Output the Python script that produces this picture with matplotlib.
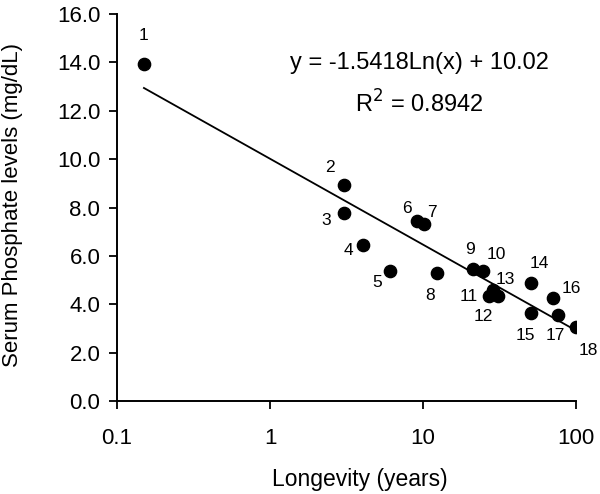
import numpy as np
import matplotlib
matplotlib.use("Agg")
import matplotlib.pyplot as plt

plt.rcParams["font.family"] = ["Liberation Sans", "DejaVu Sans"]

# longevity (years) and serum phosphate (mg/dL), species 1-18
longevity = [0.15, 3.06, 3.06, 4.07, 6.08, 9.1, 10.15, 12.3, 21.3, 24.5,
             27.1, 31.0, 28.8, 50.6, 50.6, 71.1, 76.7, 100.0]
phosphate = [13.95, 8.95, 7.76, 6.47, 5.37, 7.45, 7.34, 5.28, 5.48, 5.38,
             4.34, 4.34, 4.61, 4.89, 3.65, 4.27, 3.58, 3.05]
labels = [str(i) for i in range(1, 19)]
# label offsets in points from each marker
label_dx = [0, -10, -13, -11, -9, -7, 6, -5, -2, 10, -15, -11, 9, 6, -4, 13, -2, 9]
label_dy = [20, 12, -5, -4, -8, 9, 8, -16, 14, 12, 0, -15, 7, 14, -16, 7, -15, -17]

fit_a, fit_b = -1.5418, 10.02

fig = plt.figure(figsize=(6.0, 4.94), dpi=100)
ax = fig.add_axes([0.195, 0.188, 0.765, 0.7835])

ax.scatter(longevity, phosphate, s=78, color="black", zorder=3)

xf = np.logspace(np.log10(min(longevity)), np.log10(max(longevity)), 100)
ax.plot(xf, fit_a * np.log(xf) + fit_b, color="black", lw=1.3)

for x, y, t, dx, dy in zip(longevity, phosphate, labels, label_dx, label_dy):
    ax.annotate(t, (x, y), xytext=(dx, dy), textcoords="offset points",
                ha="center", va="center", fontsize=12.5)

ax.text(0.659, 0.873, "y = -1.5418Ln(x) + 10.02", transform=ax.transAxes,
        ha="center", va="center", fontsize=17)
ax.text(0.659, 0.768, "R$^2$ = 0.8942", transform=ax.transAxes,
        ha="center", va="center", fontsize=17)

ax.set_xscale("log")
ax.set_xlim(0.1, 100)
ax.set_ylim(0, 16)
ax.set_xticks([0.1, 1, 10, 100])
ax.set_xticklabels(["0.1", "1", "10", "100"])
ax.xaxis.set_minor_locator(matplotlib.ticker.NullLocator())
ax.set_yticks(np.arange(0, 17, 2))
ax.set_yticklabels([f"{v:.1f}" for v in np.arange(0, 17, 2)])

for s in ["top", "right"]:
    ax.spines[s].set_visible(False)
for s in ["left", "bottom"]:
    ax.spines[s].set_linewidth(1.4)
ax.tick_params(direction="out", length=6, width=1.3, labelsize=16, pad=6)
ax.tick_params(axis="x", pad=13)

ax.set_xlabel("Longevity (years)", fontsize=16.5)
ax.set_ylabel("Serum Phosphate levels (mg/dL)", fontsize=16)
ax.xaxis.set_label_coords(0.53, -0.172)
ax.yaxis.set_label_coords(-0.205, 0.508)

fig.savefig("out.png", dpi=100)
